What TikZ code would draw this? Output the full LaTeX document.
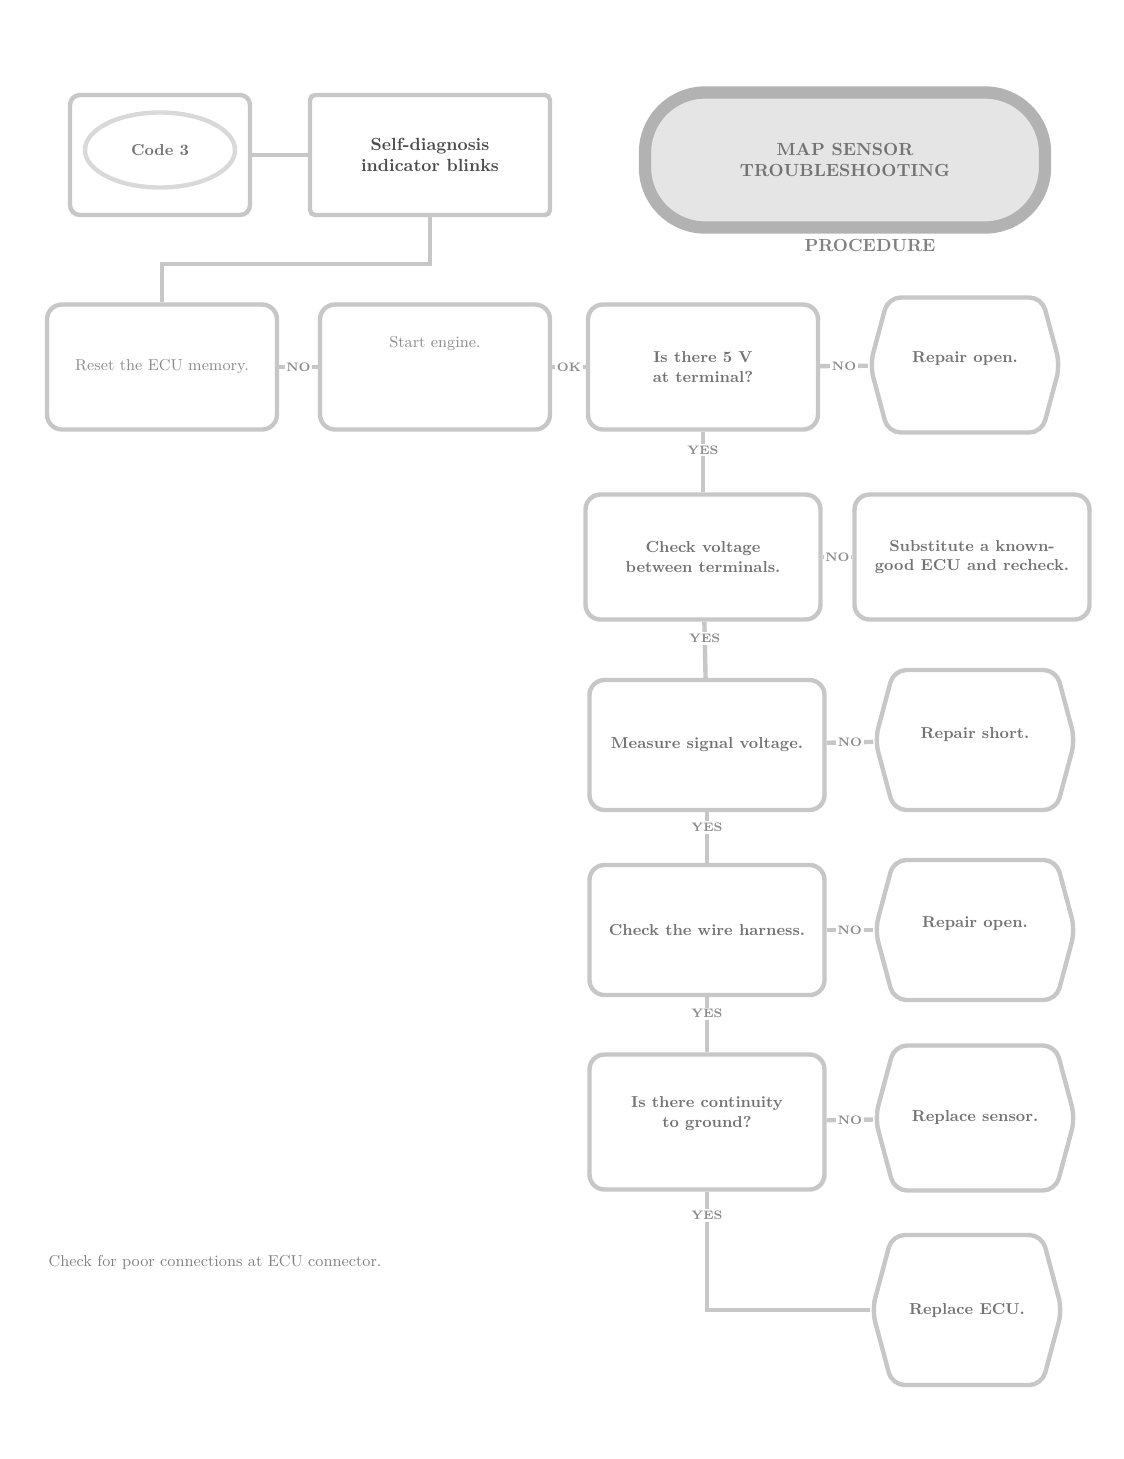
\documentclass[tikz,border=0pt]{standalone}
\usepackage{tikz}
\usetikzlibrary{positioning}
\usetikzlibrary{calc}
\usetikzlibrary{shapes}

\begin{document}
\begin{tikzpicture}[x=0.2mm, y=-0.2mm]
% -------------------------------------------------
\tikzset{
  base/.style={draw=black!22, line width=2.5pt, align=center, fill=white, text=black!55, font=\bfseries\small},
  rect/.style={base, rectangle, rounded corners=3mm, minimum width=46mm, minimum height=25mm},
  hexa/.style={base, signal, signal to=east and west, signal pointer angle=150, rounded corners=2.5mm, minimum width=38mm, minimum height=27mm},
  line/.style={draw=black!22, line width=2.5pt},
  lbl/.style={font=\bfseries\scriptsize, text=black!45, fill=white, inner sep=1pt}
}
    \useasboundingbox (0,0) rectangle (1124,1459);

    % top row
    \node [rect, rectangle, rounded corners=2mm, minimum width=36mm, minimum height=24mm] (start) at (160,155) {};
    \node [base, ellipse, draw=black!15, minimum width=30mm, minimum height=15mm] (code) at (160,150) {Code 3};
    \node [rect, rectangle, rounded corners=1mm, minimum width=48mm, minimum height=24mm, font=\bfseries\normalsize, text=black!70] (blink) at (430,155) {Self-diagnosis\\indicator blinks};
    \node [base, rounded corners=12mm, line width=7pt, draw=black!30, fill=black!10, minimum width=80mm, minimum height=27mm, font=\bfseries\normalsize, text=black!55] (hdr) at (845,160) {MAP SENSOR\\TROUBLESHOOTING};
    \node [font=\bfseries\normalsize, text=black!50] (hdrsub) at (870,245) {PROCEDURE};

    % second row
    \node [rect, font=\small, text=black!45] (reset) at (162,367) {Reset the ECU memory.};
    \node [rect, font=\small, text=black!45, text depth=10mm] (run) at (435,367) {Start engine.};
    \node [rect] (volt) at (703,367) {Is there 5 V\\at terminal?};
    \node [hexa, text depth=3mm] (rpr1) at (965,365) {Repair open.};

    % right column
    \node [rect, minimum width=47mm] (chk) at (703,557) {Check voltage\\between terminals.};
    \node [rect, minimum width=47mm] (sub) at (972,557) {Substitute a known-\\good ECU and recheck.};

    \node [rect, minimum width=47mm, minimum height=26mm] (meas) at (707,745) {Measure signal voltage.};
    \node [hexa, minimum width=40mm, minimum height=28mm, text depth=3mm] (rpr2) at (975,740) {Repair short.};

    \node [rect, minimum width=47mm, minimum height=26mm] (wire) at (707,930) {Check the wire harness.};
    \node [hexa, minimum width=40mm, minimum height=28mm, text depth=3mm] (rpr3) at (975,930) {Repair open.};

    \node [rect, minimum width=47mm, minimum height=27mm, text depth=4mm] (cont) at (707,1122) {Is there continuity\\to ground?};
    \node [hexa, minimum width=40mm, minimum height=29mm] (repl) at (975,1118) {Replace sensor.};

    \node [hexa, minimum width=38mm, minimum height=30mm] (ecu) at (967,1310) {Replace ECU.};

    \node [font=\small, text=black!50] (note) at (215,1262) {Check for poor connections at ECU connector.};

    % connectors
    \path [line] (start) -- (blink);
    \path [line] (blink.south) -- ++(0,47) -| (reset.north);
    \path [line] (reset) -- node [lbl] {NO} (run);
    \path [line] (run) -- node [lbl] {OK} (volt);
    \path [line] (volt) -- node [lbl] {NO} (rpr1);
    \path [line] (volt) -- node [lbl, pos=0.3] {YES} (chk);
    \path [line] (chk) -- node [lbl] {NO} (sub);
    \path [line] (chk) -- node [lbl, pos=0.3] {YES} (meas);
    \path [line] (meas) -- node [lbl] {NO} (rpr2);
    \path [line] (meas) -- node [lbl, pos=0.3] {YES} (wire);
    \path [line] (wire) -- node [lbl] {NO} (rpr3);
    \path [line] (wire) -- node [lbl, pos=0.3] {YES} (cont);
    \path [line] (cont) -- node [lbl] {NO} (repl);
    \path [line] (cont.south) |- node [lbl, pos=0.1] {YES} (ecu.west);

\end{tikzpicture}
\end{document}
